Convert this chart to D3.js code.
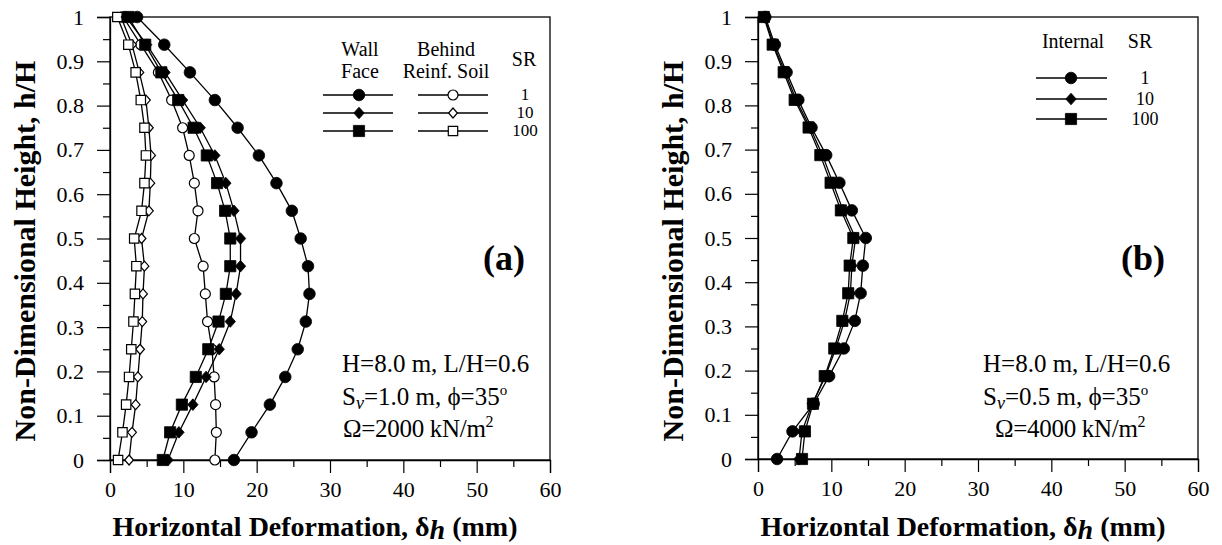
<!DOCTYPE html>
<html>
<head>
<meta charset="utf-8">
<script src="https://cdn.jsdelivr.net/npm/d3@7"></script>
<style>
  html, body { margin: 0; padding: 0; background: #fff; }
  svg { display: block; }
  svg text { font-family: "Liberation Serif", Tinos, "Times New Roman", Times, "Nimbus Roman", "DejaVu Serif", serif !important; fill: #000; }
</style>
</head>
<body>
<svg id="chart" width="1222" height="545"></svg>
<script>
// ---------------- data ----------------
const heights = [0, 0.0625, 0.125, 0.1875, 0.25, 0.3125, 0.375, 0.4375, 0.5, 0.5625, 0.625, 0.6875, 0.75, 0.8125, 0.875, 0.9375, 1];

// Panel (a): wall face
const wallFaceSR1   = [16.9, 19.3, 21.8, 23.9, 25.6, 26.7, 27.2, 27.0, 26.0, 24.8, 22.7, 20.3, 17.4, 14.3, 10.9, 7.4, 3.7];
const wallFaceSR10  = [7.9, 9.4, 11.3, 13.1, 14.9, 16.4, 17.2, 17.8, 17.8, 16.9, 15.8, 14.3, 12.3, 9.9, 7.5, 5.0, 2.2];
const wallFaceSR100 = [7.2, 8.2, 9.8, 11.7, 13.4, 14.8, 15.8, 16.4, 16.4, 15.7, 14.6, 13.2, 11.4, 9.3, 7.0, 4.8, 2.5];
// Panel (a): behind reinforced soil
const behindSR1     = [14.3, 14.5, 14.4, 14.2, 13.9, 13.3, 13.0, 12.7, 11.5, 12.0, 11.5, 10.8, 9.9, 8.4, 6.6, 4.2, 1.8];
const behindSR10    = [2.6, 3.0, 3.5, 3.8, 4.1, 4.4, 4.5, 4.7, 4.3, 5.3, 5.5, 5.6, 5.3, 4.9, 4.0, 3.0, 1.5];
const behindSR100   = [1.1, 1.7, 2.2, 2.6, 2.9, 3.2, 3.4, 3.6, 3.3, 4.3, 4.7, 4.9, 4.7, 4.2, 3.5, 2.5, 1.0];
// Panel (b): internal
const internalSR1   = [2.6, 4.7, 7.6, 9.7, 11.7, 13.2, 14.0, 14.3, 14.7, 12.8, 11.1, 9.3, 7.3, 5.5, 3.9, 2.3, 1.0];
const internalSR10  = [5.6, 6.0, 7.4, 9.2, 10.6, 11.8, 12.6, 12.8, 13.3, 11.6, 10.2, 8.8, 7.1, 5.2, 3.7, 2.1, 0.9];
const internalSR100 = [6.0, 6.4, 7.5, 9.1, 10.4, 11.5, 12.3, 12.5, 13.0, 11.3, 9.9, 8.5, 6.9, 5.0, 3.5, 2.0, 0.8];

const xTicks = [0, 10, 20, 30, 40, 50, 60];
const xMinorTicks = [5, 15, 25, 35, 45, 55];
const yTicks = [0, 0.1, 0.2, 0.3, 0.4, 0.5, 0.6, 0.7, 0.8, 0.9, 1];
const yMinorTicks = [0.05, 0.15, 0.25, 0.35, 0.45, 0.55, 0.65, 0.75, 0.85, 0.95];
const srLabels = ["1", "10", "100"];

// ---------------- drawing ----------------
const FONT = '"Liberation Serif", Tinos, "Times New Roman", Times, "Nimbus Roman", "DejaVu Serif", serif';
const svg = d3.select("#chart");

function markerPath(shape) {
  const p = d3.path();
  if (shape === "circle") { p.arc(0, 0, 5.8, 0, 2 * Math.PI); }
  else if (shape === "ocircle") { p.arc(0, 0, 5, 0, 2 * Math.PI); }
  else if (shape === "square") { p.rect(-5.6, -5.6, 11.2, 11.2); }
  else if (shape === "osquare") { p.rect(-4.7, -4.7, 9.4, 9.4); }
  else if (shape === "diamond") { p.moveTo(0, -5.8); p.lineTo(5.2, 0); p.lineTo(0, 5.8); p.lineTo(-5.2, 0); p.closePath(); }
  else if (shape === "odiamond") { p.moveTo(0, -5); p.lineTo(4.4, 0); p.lineTo(0, 5); p.lineTo(-4.4, 0); p.closePath(); }
  return p.toString();
}
function drawMarker(g, shape, x, y) {
  const open = shape.startsWith("o");
  g.append("path")
    .attr("d", markerPath(shape))
    .attr("transform", `translate(${x},${y})`)
    .attr("fill", open ? "#fff" : "#000")
    .attr("stroke", "#000")
    .attr("stroke-width", open ? 1.2 : 0.8);
}

function panel(cfg) {
  const x = d3.scaleLinear().domain([0, 60]).range([cfg.left, cfg.right]);
  const y = d3.scaleLinear().domain([0, 1]).range([cfg.bottom, cfg.top]);
  const g = svg.append("g").attr("font-family", FONT);

  // frame
  g.append("rect").attr("x", cfg.left).attr("y", cfg.top)
    .attr("width", cfg.right - cfg.left).attr("height", cfg.bottom - cfg.top)
    .attr("fill", "none").attr("stroke", "#000").attr("stroke-width", 1.3);

  // axes
  const xAxis = g.append("g").attr("transform", `translate(0,${cfg.bottom})`)
    .call(d3.axisBottom(x).tickValues(xTicks).tickSize(13).tickPadding(8).tickFormat(d3.format("d")));
  g.append("g").attr("transform", `translate(0,${cfg.bottom})`)
    .call(d3.axisBottom(x).tickValues(xMinorTicks).tickSize(7).tickFormat(""))
    .call(a => a.select(".domain").remove());
  const yAxis = g.append("g").attr("transform", `translate(${cfg.left},0)`)
    .call(d3.axisLeft(y).tickValues(yTicks).tickSize(13).tickPadding(13).tickFormat(d => d === 0 || d === 1 ? String(d) : d3.format(".1f")(d)));
  g.append("g").attr("transform", `translate(${cfg.left},0)`)
    .call(d3.axisLeft(y).tickValues(yMinorTicks).tickSize(7).tickFormat(""))
    .call(a => a.select(".domain").remove());
  g.selectAll(".domain").attr("stroke", "#000").attr("stroke-width", 1.3);
  g.selectAll(".tick line").attr("stroke", "#000").attr("stroke-width", 1.2);
  g.selectAll("g").attr("font-family", FONT);
  xAxis.selectAll("text").attr("font-size", 22).attr("fill", "#000");
  yAxis.selectAll("text").attr("font-size", 22).attr("fill", "#000");
  xAxis.selectAll(".tick text").attr("dy", "0.71em");

  // axis titles
  const xt = g.append("text").attr("x", (cfg.left + cfg.right) / 2 - 15).attr("y", 536)
    .attr("text-anchor", "middle").attr("font-weight", "bold").attr("font-size", 28);
  xt.append("tspan").text("Horizontal Deformation, δ");
  xt.append("tspan").attr("font-style", "italic").attr("dy", 3).text("h");
  xt.append("tspan").attr("dy", -3).text(" (mm)");

  g.append("text").attr("transform", `translate(${cfg.left - 75},251) rotate(-90)`)
    .attr("text-anchor", "middle").attr("font-weight", "bold").attr("font-size", 30)
    .text("Non-Dimensional Height, h/H");

  // series
  const line = d3.line().x(d => x(d[0])).y(d => y(d[1]));
  cfg.series.forEach(s => {
    const pts = s.values.map((v, i) => [v, heights[i]]);
    g.append("path").attr("d", line(pts)).attr("fill", "none").attr("stroke", "#000").attr("stroke-width", 1.3);
  });
  cfg.series.forEach(s => {
    s.values.forEach((v, i) => drawMarker(g, s.shape, x(v), y(heights[i])));
  });

  // panel tag
  g.append("text").attr("x", cfg.tagX).attr("y", 270).attr("text-anchor", "middle")
    .attr("font-weight", "bold").attr("font-size", 36).text(cfg.tag);

  // annotation
  const ax = cfg.annX;
  g.append("text").attr("x", ax).attr("y", 372).attr("font-size", 25).text("H=8.0 m, L/H=0.6");
  const t2 = g.append("text").attr("x", ax).attr("y", 405).attr("font-size", 25);
  t2.append("tspan").text("S");
  t2.append("tspan").attr("font-style", "italic").attr("font-size", 18).attr("dy", 4).text("v");
  t2.append("tspan").attr("dy", -4).text(`=${cfg.sv} m, ϕ=35`);
  t2.append("tspan").attr("font-size", 15).attr("dy", -10).text("o");
  const t3 = g.append("text").attr("x", cfg.omegaX).attr("y", 437).attr("font-size", 25).attr("letter-spacing", -0.3);
  t3.append("tspan").text(`Ω=${cfg.omega} kN/m`);
  t3.append("tspan").attr("font-size", 16).attr("dy", -10).text("2");

  return g;
}

// Panel (a)
const ga = panel({
  left: 110, right: 550, top: 17, bottom: 460,
  tag: "(a)", tagX: 504, annX: 342, omegaX: 343, sv: "1.0", omega: "2000",
  series: [
    { values: wallFaceSR1, shape: "circle" },
    { values: behindSR1, shape: "ocircle" },
    { values: behindSR10, shape: "odiamond" },
    { values: behindSR100, shape: "osquare" },
    { values: wallFaceSR10, shape: "diamond" },
    { values: wallFaceSR100, shape: "square" }
  ]
});

// Legend (a)
[["Wall", 56], ["Face", 78]].forEach(([t, yy]) =>
  ga.append("text").attr("x", 360).attr("y", yy).attr("text-anchor", "middle").attr("font-size", 20).text(t));
[["Behind", 56], ["Reinf. Soil", 78]].forEach(([t, yy]) =>
  ga.append("text").attr("x", 446).attr("y", yy).attr("text-anchor", "middle").attr("font-size", 20).text(t));
ga.append("text").attr("x", 524).attr("y", 66).attr("text-anchor", "middle").attr("font-size", 20).text("SR");
const legARows = [95, 113, 131];
const legAWall = ["circle", "diamond", "square"];
const legABehind = ["ocircle", "odiamond", "osquare"];
legARows.forEach((yy, i) => {
  ga.append("line").attr("x1", 323).attr("x2", 393).attr("y1", yy).attr("y2", yy).attr("stroke", "#000").attr("stroke-width", 1.3);
  drawMarker(ga, legAWall[i], 359, yy);
  ga.append("line").attr("x1", 418).attr("x2", 488).attr("y1", yy).attr("y2", yy).attr("stroke", "#000").attr("stroke-width", 1.3);
  drawMarker(ga, legABehind[i], 453, yy);
  ga.append("text").attr("x", 525).attr("y", yy + 5).attr("text-anchor", "middle").attr("font-size", 17).text(srLabels[i]);
});

// Panel (b)
const gb = panel({
  left: 758, right: 1198, top: 17, bottom: 459,
  tag: "(b)", tagX: 1143, annX: 983, omegaX: 995, sv: "0.5", omega: "4000",
  series: [
    { values: internalSR1, shape: "circle" },
    { values: internalSR10, shape: "diamond" },
    { values: internalSR100, shape: "square" }
  ]
});

// Legend (b)
gb.append("text").attr("x", 1073).attr("y", 48).attr("text-anchor", "middle").attr("font-size", 20).text("Internal");
gb.append("text").attr("x", 1140).attr("y", 48).attr("text-anchor", "middle").attr("font-size", 20).text("SR");
const legBRows = [78, 99, 119];
const legBShapes = ["circle", "diamond", "square"];
legBRows.forEach((yy, i) => {
  gb.append("line").attr("x1", 1036).attr("x2", 1107).attr("y1", yy).attr("y2", yy).attr("stroke", "#000").attr("stroke-width", 1.3);
  drawMarker(gb, legBShapes[i], 1071, yy);
  gb.append("text").attr("x", 1145).attr("y", yy + 6).attr("text-anchor", "middle").attr("font-size", 18).text(srLabels[i]);
});
</script>
</body>
</html>
